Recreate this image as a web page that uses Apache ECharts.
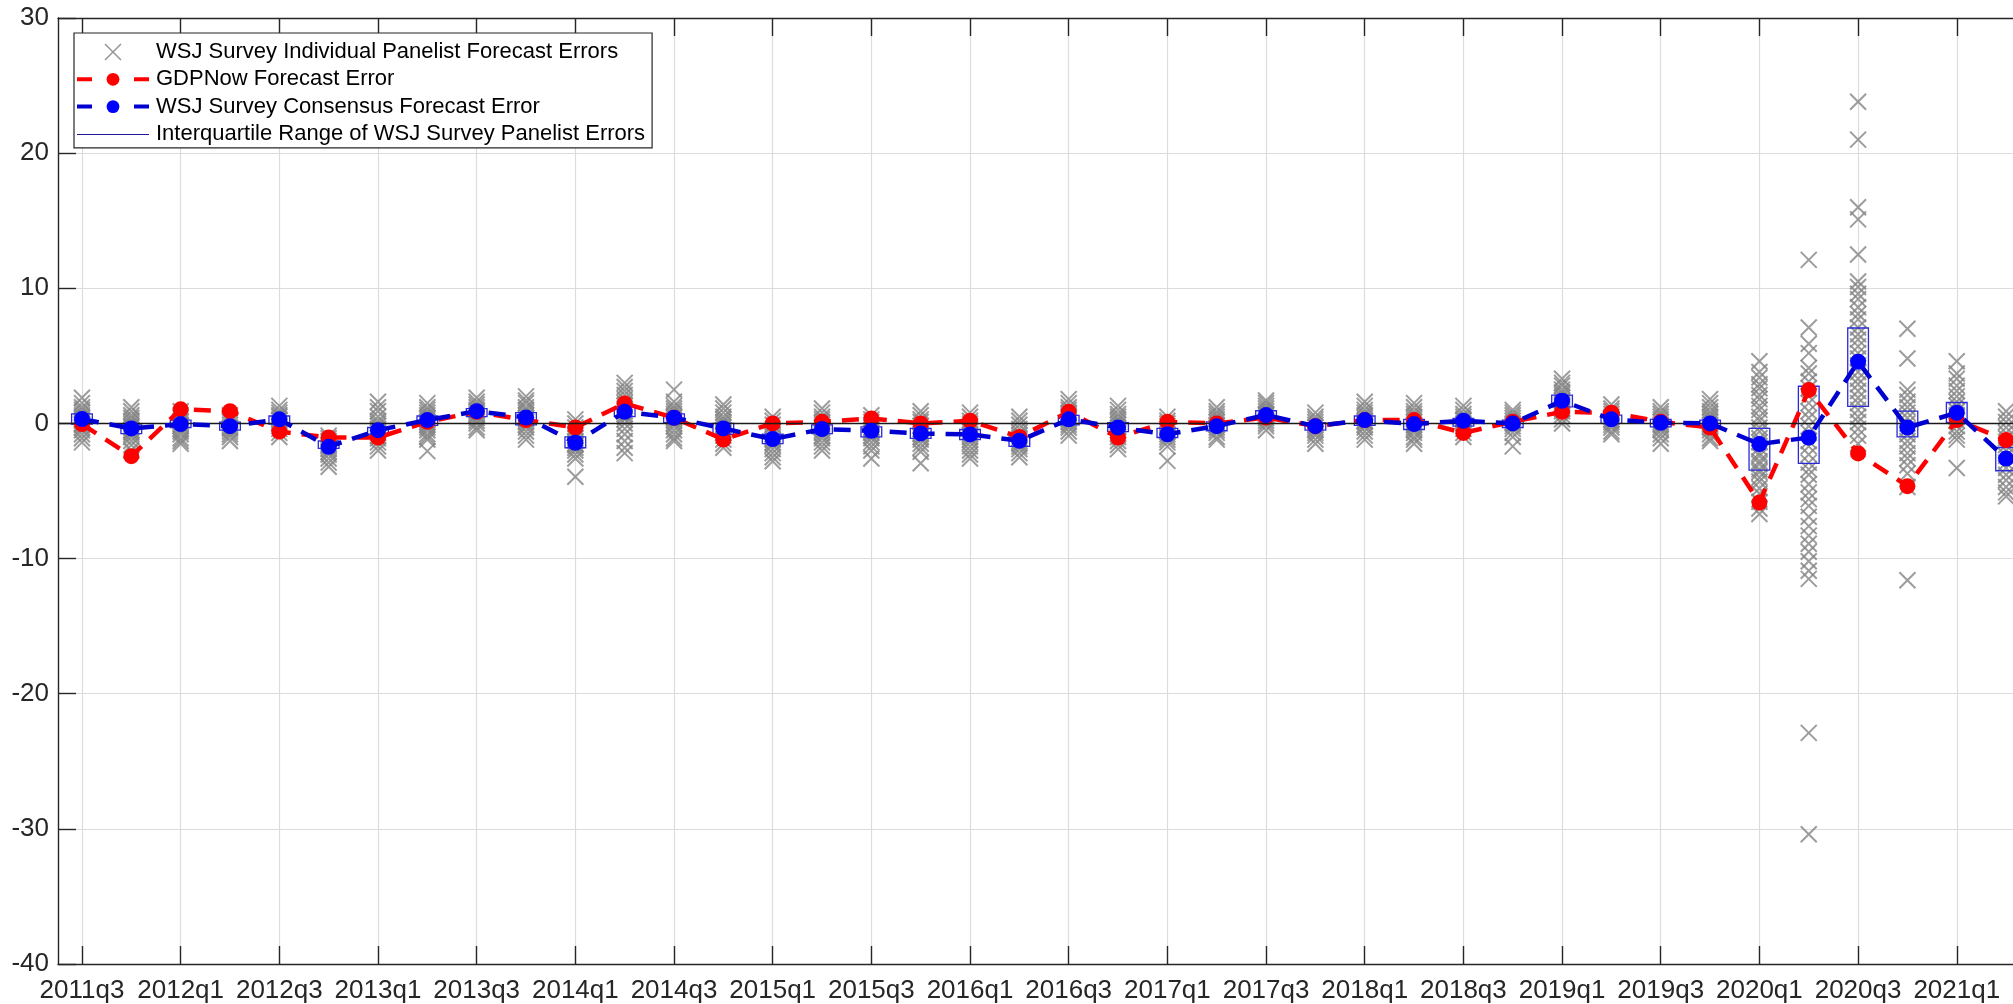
<!DOCTYPE html>
<html>
<head>
<meta charset="utf-8">
<title>GDPNow vs WSJ survey forecast errors</title>
<script src="https://cdn.jsdelivr.net/npm/echarts@6/dist/echarts.min.js"></script>
<style>
  html, body { margin: 0; padding: 0; background: #fff; }
  #chart { width: 2013px; height: 1004px; }
</style>
</head>
<body>
<div id="chart"></div>
<script>
// quarters on the x axis (one point per quarter)
var quarters = ['2011q3','2011q4','2012q1','2012q2','2012q3','2012q4','2013q1','2013q2','2013q3','2013q4',
  '2014q1','2014q2','2014q3','2014q4','2015q1','2015q2','2015q3','2015q4','2016q1','2016q2',
  '2016q3','2016q4','2017q1','2017q2','2017q3','2017q4','2018q1','2018q2','2018q3','2018q4',
  '2019q1','2019q2','2019q3','2019q4','2020q1','2020q2','2020q3','2020q4','2021q1','2021q2'];

// GDPNow forecast error
var gdpNow = [-0.05, -2.42, 1.04, 0.91, -0.6, -1.04, -1.04, 0.12, 0.86, 0.25,
  -0.3, 1.48, 0.42, -1.19, 0.0, 0.12, 0.37, 0.0, 0.2, -1.0,
  0.86, -1.04, 0.12, 0.0, 0.44, -0.2, 0.25, 0.25, -0.7, 0.12,
  0.86, 0.79, 0.12, -0.3, -5.85, 2.47, -2.22, -4.64, 0.25, -1.23];

// WSJ consensus forecast error
var consensus = [0.32, -0.37, -0.05, -0.2, 0.3, -1.73, -0.5, 0.25, 0.91, 0.44,
  -1.43, 0.86, 0.42, -0.37, -1.16, -0.42, -0.54, -0.74, -0.81, -1.28,
  0.3, -0.3, -0.8, -0.2, 0.62, -0.2, 0.25, -0.05, 0.2, 0.0,
  1.68, 0.3, 0.05, 0.0, -1.53, -1.04, 4.57, -0.3, 0.79, -2.6];

// interquartile range of panelist errors
var iqrLow = [-0.05, -0.75, -0.3, -0.5, -0.05, -1.85, -0.8, -0.15, 0.5, -0.1,
  -1.8, 0.5, 0.05, -0.8, -1.5, -0.75, -1.0, -1.1, -1.2, -1.7,
  -0.1, -0.6, -1.04, -0.54, 0.3, -0.5, -0.15, -0.45, -0.2, -0.3,
  1.23, 0.0, -0.25, -0.3, -3.46, -2.96, 1.26, -1.0, 0.07, -3.5];
var iqrHigh = [0.7, -0.1, 0.25, 0.1, 0.55, -1.3, -0.3, 0.55, 1.1, 0.8,
  -1.0, 1.2, 0.7, 0.0, -0.8, -0.1, -0.25, -0.37, -0.45, -1.0,
  0.6, 0.05, -0.37, 0.12, 0.94, 0.05, 0.55, 0.3, 0.37, 0.25,
  2.1, 0.62, 0.3, 0.25, -0.37, 2.75, 7.06, 0.91, 1.55, -1.78];

// individual panelist errors, one list per quarter
var panelErrors = [
  [1.9, 1.5, 1.2, 1.0, 0.8, 0.6, 0.45, 0.3, 0.2, 0.0, -0.1, -0.3, -0.5, -0.8, -1.1, -1.4],
  [1.2, 0.9, 0.6, 0.4, 0.2, 0.0, -0.2, -0.3, -0.5, -0.65, -0.8, -1.0, -1.3, -1.6, -2.0],
  [0.9, 0.6, 0.4, 0.2, 0.1, -0.1, -0.2, -0.4, -0.6, -0.8, -1.1, -1.3, -1.5],
  [0.6, 0.4, 0.2, 0.1, -0.1, -0.3, -0.4, -0.6, -0.8, -1.0, -1.3],
  [1.3, 1.0, 0.8, 0.6, 0.5, 0.3, 0.2, 0.0, -0.2, -0.4, -0.7, -1.0],
  [-0.9, -1.1, -1.3, -1.4, -1.6, -1.7, -1.9, -2.1, -2.3, -2.6, -2.9, -3.2],
  [1.6, 1.2, 0.9, 0.5, 0.2, 0.0, -0.2, -0.4, -0.5, -0.7, -0.9, -1.1, -1.4, -1.7, -2.0],
  [1.5, 1.2, 1.0, 0.8, 0.6, 0.4, 0.3, 0.1, -0.1, -0.3, -0.5, -0.8, -1.0, -1.2, -2.05],
  [1.9, 1.6, 1.4, 1.2, 1.0, 0.9, 0.7, 0.6, 0.4, 0.2, 0.0, -0.3, -0.5],
  [2.0, 1.7, 1.5, 1.2, 1.0, 0.8, 0.6, 0.4, 0.3, 0.1, -0.1, -0.3, -0.6, -0.9, -1.2],
  [0.3, 0.0, -0.3, -0.6, -0.9, -1.1, -1.3, -1.5, -1.6, -1.8, -2.0, -2.3, -2.6, -3.95],
  [3.0, 2.7, 2.4, 2.1, 1.8, 1.5, 1.3, 1.1, 0.9, 0.7, 0.5, 0.3, 0.0, -0.4, -0.8, -1.3, -1.8, -2.2],
  [2.5, 1.6, 1.3, 1.1, 0.9, 0.7, 0.5, 0.4, 0.2, 0.0, -0.2, -0.5, -0.8, -1.1, -1.3],
  [1.4, 1.1, 0.8, 0.5, 0.3, 0.1, -0.1, -0.3, -0.5, -0.7, -0.9, -1.2, -1.5, -1.8],
  [0.5, 0.2, -0.1, -0.4, -0.6, -0.8, -1.0, -1.2, -1.4, -1.6, -1.9, -2.2, -2.5, -2.8],
  [1.1, 0.8, 0.5, 0.3, 0.1, -0.1, -0.3, -0.5, -0.7, -0.9, -1.1, -1.4, -1.7, -2.0],
  [0.6, 0.3, 0.1, -0.1, -0.3, -0.5, -0.7, -0.9, -1.1, -1.4, -1.7, -2.0, -2.6],
  [0.9, 0.6, 0.3, 0.1, -0.2, -0.4, -0.6, -0.8, -1.0, -1.2, -1.5, -1.8, -2.1, -2.95],
  [0.8, 0.5, 0.2, 0.0, -0.2, -0.4, -0.6, -0.8, -1.0, -1.2, -1.4, -1.7, -2.0, -2.3, -2.6],
  [0.5, 0.2, -0.1, -0.4, -0.7, -0.9, -1.1, -1.3, -1.5, -1.7, -1.9, -2.2, -2.5],
  [1.8, 1.5, 1.2, 1.0, 0.8, 0.6, 0.5, 0.3, 0.1, -0.1, -0.3, -0.6, -0.9],
  [1.3, 1.0, 0.7, 0.5, 0.3, 0.1, -0.1, -0.3, -0.5, -0.7, -1.0, -1.3, -1.6, -1.9],
  [0.5, 0.2, 0.0, -0.2, -0.4, -0.6, -0.8, -1.0, -1.2, -1.4, -1.7, -2.77],
  [1.2, 0.9, 0.7, 0.5, 0.3, 0.1, -0.1, -0.3, -0.5, -0.7, -1.0, -1.2],
  [1.7, 1.5, 1.3, 1.1, 0.9, 0.7, 0.6, 0.4, 0.2, 0.0, -0.2, -0.5],
  [0.8, 0.5, 0.3, 0.1, -0.1, -0.3, -0.5, -0.7, -0.9, -1.2, -1.5],
  [1.6, 1.3, 1.0, 0.8, 0.6, 0.4, 0.2, 0.1, -0.1, -0.3, -0.6, -0.9, -1.2],
  [1.5, 1.2, 0.9, 0.7, 0.5, 0.3, 0.1, -0.1, -0.3, -0.5, -0.7, -1.0, -1.2, -1.5],
  [1.3, 1.0, 0.7, 0.5, 0.3, 0.2, 0.0, -0.2, -0.4, -0.7, -1.0],
  [1.0, 0.8, 0.6, 0.4, 0.2, 0.0, -0.2, -0.4, -0.7, -1.0, -1.7],
  [3.3, 3.0, 2.8, 2.5, 2.3, 2.1, 1.9, 1.7, 1.5, 1.3, 1.1, 0.9, 0.6, 0.3, 0.0],
  [1.4, 1.1, 0.9, 0.7, 0.5, 0.3, 0.1, -0.1, -0.3, -0.6, -0.8],
  [1.2, 0.9, 0.7, 0.5, 0.3, 0.1, -0.1, -0.3, -0.5, -0.8, -1.1, -1.5],
  [1.8, 1.5, 1.2, 0.9, 0.7, 0.5, 0.3, 0.1, -0.1, -0.3, -0.5, -0.8, -1.1, -1.3],
  [4.6, 3.8, 3.4, 2.9, 2.6, 2.1, 1.8, 1.3, 1.0, 0.5, 0.2, -0.3, -0.6, -1.1, -1.4, -1.8,
   -2.2, -2.4, -2.8, -3.0, -3.4, -3.6, -4.0, -4.3, -4.8, -5.2, -5.8, -6.3, -6.7],
  [12.1, 7.1, 5.9, 5.2, 4.1, 3.7, 3.1, 2.6, 2.0, 1.5, 0.9, 0.4, -0.2, -0.7, -1.3, -1.7,
   -2.3, -2.9, -3.4, -3.8, -4.5, -5.1, -5.6, -6.1, -6.9, -7.6, -8.3, -8.9, -9.5, -10.2, -10.9, -11.5,
   -22.9, -30.4],
  [23.8, 21.0, 16.0, 15.1, 12.5, 10.5, 10.1, 9.6, 9.2, 8.6, 8.1, 7.7, 7.1, 6.6, 6.2, 5.7,
   5.2, 4.8, 4.3, 3.8, 3.3, 2.9, 2.4, 1.9, 1.5, 1.0, 0.5, 0.1, -0.4, -0.9, -1.5],
  [7.0, 4.8, 2.5, 2.1, 1.6, 1.2, 0.8, 0.4, 0.0, -0.4, -0.8, -1.3, -1.7, -2.2, -2.6, -3.1, -3.7, -4.7, -11.6],
  [4.6, 3.7, 3.3, 2.8, 2.4, 2.0, 1.6, 1.3, 0.9, 0.6, 0.2, -0.2, -0.6, -0.9, -1.2, -3.3],
  [0.9, 0.5, 0.1, -0.3, -0.7, -1.1, -1.6, -2.0, -2.4, -2.9, -3.3, -3.8, -4.2, -4.7, -5.1, -5.4]
];

var FONT = 'Arial, "Liberation Sans", Helvetica, sans-serif';
var AXIS = '#262626';
var GRID = '#dcdcdc';

// labelled ticks every other quarter
var tickIdx = [];
for (var t = 0; t < quarters.length; t += 2) tickIdx.push(t);

var crossData = [];
panelErrors.forEach(function (list, i) {
  list.forEach(function (v) { crossData.push([i, v]); });
});
var iqrData = quarters.map(function (q, i) { return [i, iqrLow[i], iqrHigh[i]]; });
var gdpData = quarters.map(function (q, i) { return [i, gdpNow[i]]; });
var consData = quarters.map(function (q, i) { return [i, consensus[i]]; });

var crossPath = 'path://M0,0L10,10M10,0L0,10';
var iqrIcon = 'path://M0,-10L0.1,-10Z M0,0L100,0L100,1.4L0,1.4Z M0,10L0.1,10Z';

function renderIqr(params, api) {
  var top = api.coord([api.value(0), api.value(2)]);
  var bot = api.coord([api.value(0), api.value(1)]);
  var w = api.size([0.42, 0])[0];
  return {
    type: 'rect',
    shape: { x: top[0] - w / 2, y: top[1], width: w, height: bot[1] - top[1] },
    style: { fill: 'transparent', stroke: '#2a2ad8', lineWidth: 1.3 }
  };
}

var chart = echarts.init(document.getElementById('chart'));
chart.setOption({
  animation: false,
  backgroundColor: '#ffffff',
  grid: { left: 58, right: 0, top: 18, bottom: 40 },
  legend: {
    orient: 'vertical',
    left: 74,
    top: 33,
    padding: [8, 7, 3, 1],
    itemWidth: 72,
    itemHeight: 16,
    itemGap: 5.3,
    backgroundColor: '#ffffff',
    borderColor: AXIS,
    borderWidth: 1.2,
    textStyle: { fontSize: 22, color: '#000', fontFamily: FONT, lineHeight: 22, padding: [0, 0, 0, 2] },
    data: [
      { name: 'WSJ Survey Individual Panelist Forecast Errors', icon: crossPath,
        itemStyle: { color: 'rgba(0,0,0,0)', borderColor: '#808080', borderWidth: 1.6 } },
      { name: 'GDPNow Forecast Error',
        lineStyle: { color: '#ff0000', width: 4, type: [15, 42] } },
      { name: 'WSJ Survey Consensus Forecast Error',
        lineStyle: { color: '#0000d0', width: 4, type: [15, 42] } },
      { name: 'Interquartile Range of WSJ Survey Panelist Errors', icon: iqrIcon,
        itemStyle: { color: '#1c1c9c' } }
    ]
  },
  xAxis: [{
    type: 'value',
    min: -0.486,
    max: 39.14,
    position: 'bottom',
    axisLine: { onZero: false, lineStyle: { color: AXIS, width: 1.4 } },
    axisTick: { inside: true, length: 18, customValues: tickIdx, lineStyle: { color: AXIS, width: 1.4 } },
    axisLabel: {
      customValues: tickIdx,
      formatter: function (v) { return quarters[Math.round(v)]; },
      fontSize: 26, color: AXIS, fontFamily: FONT, margin: 14
    },
    splitLine: { show: true, lineStyle: { color: GRID, width: 1.2 } }
  }, {
    type: 'value',
    min: -0.486,
    max: 39.14,
    position: 'top',
    axisLine: { onZero: false, lineStyle: { color: AXIS, width: 1.4 } },
    axisTick: { inside: true, length: 18, customValues: tickIdx, lineStyle: { color: AXIS, width: 1.4 } },
    axisLabel: { show: false },
    splitLine: { show: false }
  }],
  yAxis: {
    type: 'value',
    min: -40,
    max: 30,
    interval: 10,
    axisLine: { show: true, onZero: false, lineStyle: { color: AXIS, width: 1.4 } },
    axisTick: { show: true, inside: true, length: 18, lineStyle: { color: AXIS, width: 1.4 } },
    axisLabel: { fontSize: 26, color: AXIS, fontFamily: FONT, margin: 9 },
    splitLine: { show: true, lineStyle: { color: GRID, width: 1.2 } }
  },
  series: [{
    name: 'WSJ Survey Individual Panelist Forecast Errors',
    type: 'scatter',
    data: crossData,
    symbol: crossPath,
    symbolSize: 16,
    symbolKeepAspect: true,
    itemStyle: { color: 'rgba(0,0,0,0)', borderColor: '#838383', borderWidth: 2 },
    z: 2,
    markLine: {
      silent: true,
      symbol: 'none',
      label: { show: false },
      lineStyle: { color: '#1a1a1a', width: 1.4, type: 'solid' },
      data: [{ yAxis: 0 }]
    }
  }, {
    name: 'Interquartile Range of WSJ Survey Panelist Errors',
    type: 'custom',
    data: iqrData,
    renderItem: renderIqr,
    encode: { x: 0, y: [1, 2] },
    itemStyle: { color: '#1c1c9c' },
    z: 3
  }, {
    name: 'GDPNow Forecast Error',
    type: 'line',
    data: gdpData,
    symbol: 'circle',
    symbolSize: 16,
    itemStyle: { color: '#ff0000' },
    lineStyle: { color: '#ff0000', width: 4.5, type: [17, 11] },
    z: 4
  }, {
    name: 'WSJ Survey Consensus Forecast Error',
    type: 'line',
    data: consData,
    symbol: 'circle',
    symbolSize: 16,
    itemStyle: { color: '#0000ff' },
    lineStyle: { color: '#0000d0', width: 4.5, type: [17, 11] },
    z: 5
  }]
});
</script>
</body>
</html>
